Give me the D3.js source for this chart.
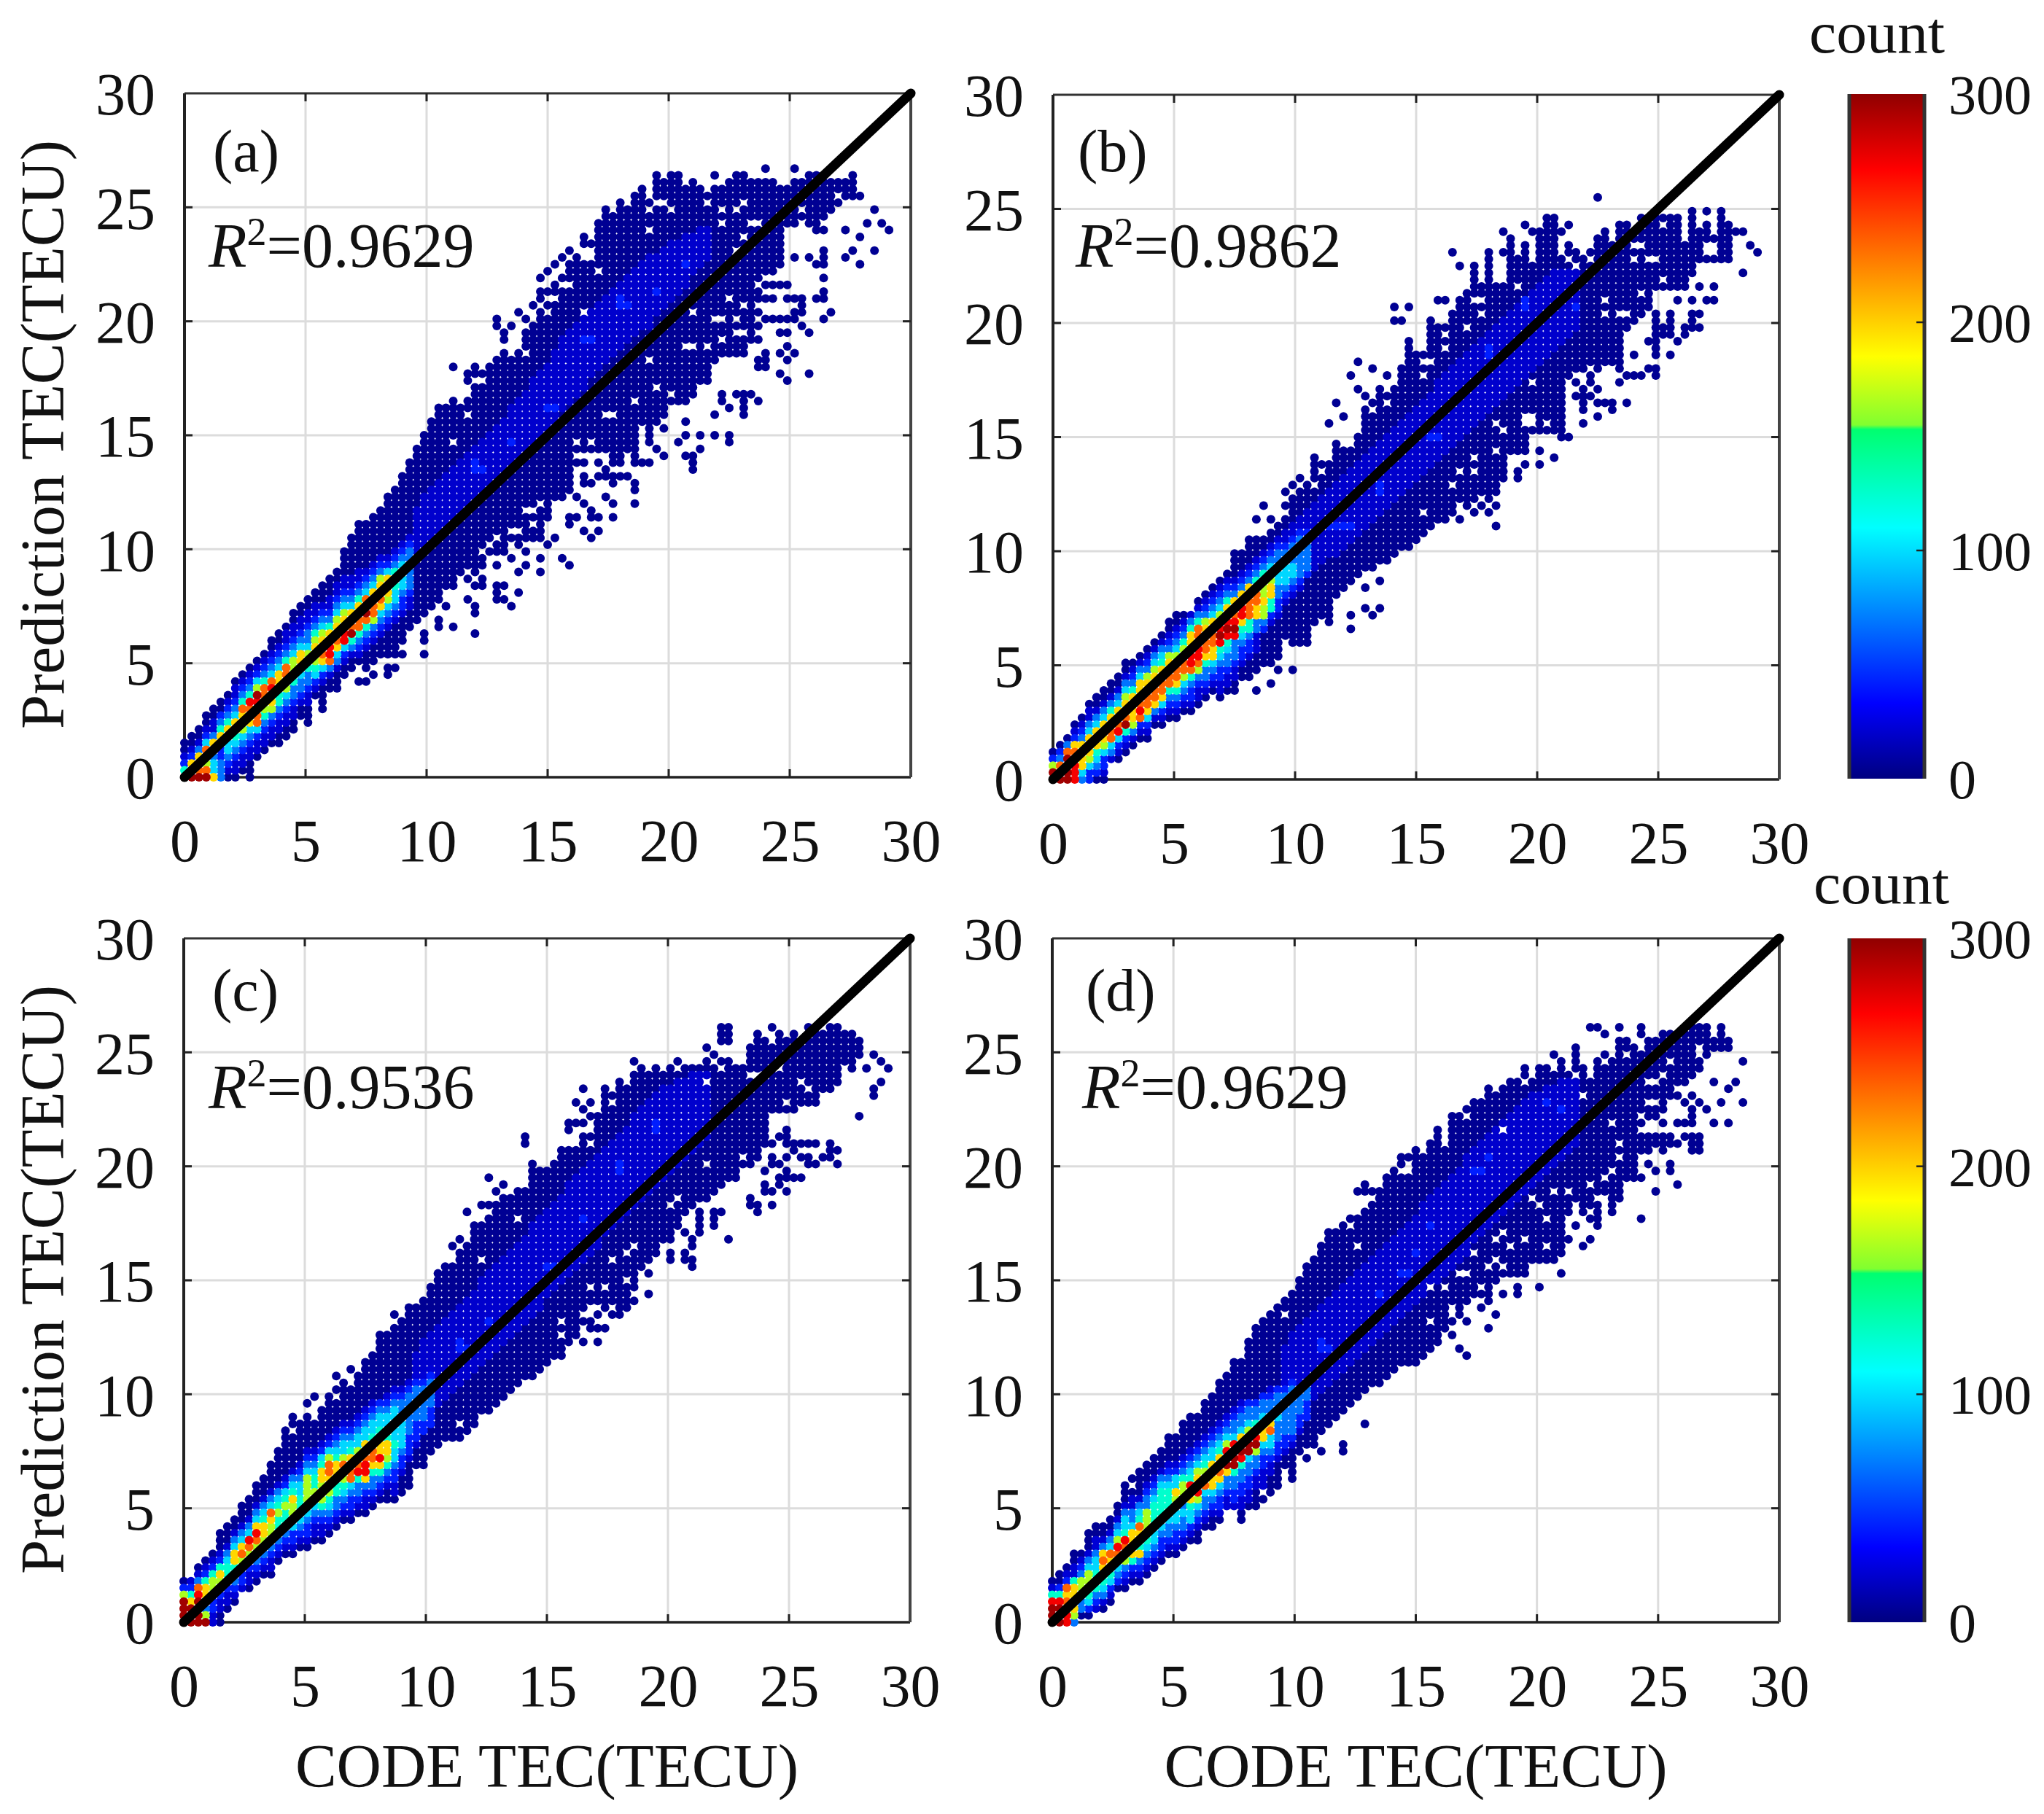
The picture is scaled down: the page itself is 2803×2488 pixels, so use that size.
<!DOCTYPE html>
<html><head><meta charset="utf-8">
<script src="https://d3js.org/d3.v7.min.js"></script>
<style>html,body{margin:0;padding:0;background:#fff}svg{display:block}text{font-family:"Liberation Serif","Times New Roman",serif;fill:#111}</style>
</head><body><div id="c"></div>
<script>
// shared
const axisTicks=[0,5,10,15,20,25,30];
const binWidth=0.3;
const panelNames=["(a)","(b)","(c)","(d)"];
const r2Values=["0.9629","0.9862","0.9536","0.9629"];
const xTitle="CODE TEC(TECU)";
const yTitle="Prediction TEC(TECU)";
const cbarTitle="count";
const cbarTicks=[0,100,200,300];
const levelCounts=[6,22,42,68,98,125,165,198,235,270,295];
const jetCounts=[0,33,110,153,155,185,267,300];
const jetColors=["#000080","#0000ff","#00ffff","#00ff70","#80ff30","#ffff00","#ff0000","#900000"];
const glowCount=20, brightCount=42;

// column envelopes, in bin numbers (bin*0.3 = TECU)
const highA=[5,6,7,9,10,11,12,14,15,16,17,18,20,21,22,24,25,26,27,28,29,30,33,35,37,37,38,39,41,42,44,46,48,50,52,54,54,55,54,55,57,57,60,61,62,61,62,65,66,71,71,71,71,74,76,79,78,81,83,82,84,83,85,86,84,88,87,88,88,86,87,86,85,86,86,87,88,88,87,87,87,87,86,86,87,87,88,88,88,87,87,87,88,85];
const lowA=[0,0,0,0,0,0,0,0,1,0,3,4,5,5,6,7,10,10,12,12,13,13,15,16,17,17,17,18,19,19,20,22,23,24,25,26,28,28,30,30,30,31,33,33,33,35,34,35,35,35,38,41,41,42,46,46,48,48,48,46,46,48,46,52,49,52,53,55,55,55,56,58,58,61,62,62,62,62,64,73,74,74,75,80,81,82,81,80,80,83,84,85,85,85];
const highB=[4,5,6,8,9,11,12,13,14,15,17,17,18,19,20,21,23,24,24,24,26,27,28,29,30,33,33,35,35,35,36,37,38,41,42,43,47,46,46,49,48,48,50,54,55,57,56,57,60,64,62,62,67,66,66,68,70,71,75,72,77,72,72,79,76,78,75,80,82,82,76,78,77,76,77,79,80,78,81,81,79,82,82,82,82,82,82,78,82,80,81,79,82,81];
const lowB=[0,0,0,0,0,0,0,0,3,3,4,5,6,6,8,8,9,9,10,10,11,12,13,12,13,13,15,15,16,17,17,18,21,20,20,20,23,24,23,27,28,29,30,31,31,32,32,33,34,34,35,36,37,38,38,40,41,41,42,42,43,43,45,48,48,48,51,51,51,51,51,59,60,60,60,60,61,61,60,66,67,68,69,72,72,72,72,72,74,76,76,76,76,76];
const highC=[6,6,8,9,10,13,14,15,17,18,20,21,23,25,28,30,29,30,29,31,33,34,35,34,36,38,39,42,42,43,44,46,46,47,49,51,52,52,54,55,58,58,59,61,62,62,63,63,67,66,66,67,69,69,69,71,71,74,78,77,79,78,80,81,80,81,80,81,80,81,81,81,82,81,82,82,81,81,84,86,85,84,86,85,86,84,87,87,86,87,87,86,86,85];
const lowC=[0,0,0,0,0,0,2,3,5,5,6,7,7,9,10,10,11,11,12,12,13,14,15,15,16,16,17,18,18,18,19,20,23,23,25,26,27,27,27,28,29,31,31,32,33,34,35,36,36,37,38,39,39,42,43,47,47,47,47,47,47,48,49,52,53,54,56,57,58,60,61,62,62,63,64,65,65,67,67,68,70,74,75,75,75,76,76,76,78,78,79,82,81,83];
const highD=[6,7,8,10,10,13,14,14,15,17,20,21,22,23,24,25,27,27,29,30,30,32,33,35,36,38,38,41,43,44,45,46,47,48,50,52,53,55,57,57,58,59,59,60,63,63,65,66,68,68,69,68,70,72,70,74,74,75,76,76,78,77,78,79,79,81,79,81,81,80,82,80,84,81,79,82,83,82,85,85,84,83,85,85,86,86,85,86,87,87,87,85,87,85];
const lowD=[0,0,0,0,1,1,2,2,3,5,5,6,6,7,8,9,10,10,11,12,12,14,14,15,17,17,16,17,17,18,19,20,23,21,25,26,26,28,29,30,31,32,33,34,35,35,36,37,38,38,38,39,40,41,43,47,47,47,48,48,48,50,51,51,51,51,53,53,53,53,55,60,62,60,59,58,62,60,62,65,67,73,74,74,75,77,79,79,80,81,83,83,84,84];

// isolated cells outside the envelopes: [bin x, bin y]
const strayA=[[37,60],[39,59],[40,59],[41,59],[39,58],[40,60],[43,67],[43,66],[44,65],[44,64],[45,66],[46,68],[47,67],[48,69],[49,73],[50,74],[51,75],[52,76],[53,77],[52,73],[51,72],[53,75],[73,88],[80,89],[84,89],[16,9],[17,8],[17,9],[19,10],[19,11],[24,14],[25,14],[26,15],[25,16],[28,15],[28,16],[29,16],[29,18],[30,18],[28,18],[33,18],[33,20],[33,21],[35,22],[35,23],[36,25],[37,22],[39,29],[39,26],[40,28],[40,25],[40,24],[40,21],[41,29],[41,28],[43,31],[43,28],[43,27],[43,26],[44,28],[44,26],[45,32],[45,25],[46,30],[46,27],[47,33],[47,31],[49,32],[49,30],[50,34],[51,35],[52,32],[53,38],[53,37],[53,31],[54,41],[54,38],[55,44],[55,43],[55,40],[55,36],[56,43],[56,39],[56,38],[56,35],[57,44],[57,46],[57,38],[57,36],[58,45],[58,44],[58,41],[59,44],[59,43],[59,40],[59,38],[60,44],[61,44],[62,43],[62,42],[62,40],[63,46],[64,46],[65,48],[66,47],[66,51],[66,53],[68,49],[69,52],[69,50],[69,47],[70,45],[70,46],[70,47],[71,48],[71,50],[73,50],[75,49],[75,50],[73,53],[74,55],[74,56],[75,54],[76,56],[77,53],[77,54],[77,55],[77,56],[78,56],[79,55],[79,60],[79,61],[80,60],[80,61],[80,62],[82,59],[82,62],[83,58],[83,61],[83,63],[82,65],[83,65],[84,62],[86,59],[85,66],[86,65],[79,64],[79,66],[79,68],[79,70],[79,71],[80,67],[81,67],[82,67],[83,67],[84,67],[84,68],[85,68],[85,69],[80,70],[81,70],[83,70],[84,70],[85,70],[80,72],[81,72],[82,72],[83,72],[87,70],[88,71],[88,70],[88,67],[89,68],[88,73],[88,75],[88,76],[87,75],[86,76],[88,77],[84,76],[91,76],[92,77],[93,75],[91,80],[93,79],[94,81],[95,77],[95,83],[96,81],[97,80]];
const strayB=[[28,38],[29,40],[30,38],[32,42],[32,40],[33,43],[34,44],[38,52],[39,55],[40,53],[41,59],[42,61],[42,57],[43,56],[44,60],[46,59],[47,67],[47,69],[48,67],[49,69],[53,70],[54,70],[55,77],[56,75],[62,80],[62,77],[65,81],[66,80],[70,80],[71,81],[75,85],[88,83],[90,83],[92,83],[94,80],[95,80],[95,74],[96,78],[97,77],[28,13],[30,14],[31,16],[33,16],[41,24],[41,22],[43,28],[43,25],[44,24],[45,25],[45,29],[58,39],[57,40],[59,40],[60,39],[61,40],[58,41],[60,41],[61,42],[60,42],[61,37],[55,39],[56,38],[62,44],[64,45],[64,44],[65,46],[67,46],[67,48],[69,47],[70,50],[71,50],[70,55],[70,56],[73,52],[75,53],[73,54],[73,55],[75,55],[76,55],[77,55],[77,54],[79,55],[72,56],[73,56],[74,56],[73,57],[75,57],[72,58],[73,58],[74,58],[78,58],[74,59],[79,59],[80,59],[81,59],[83,59],[83,60],[82,60],[85,62],[80,62],[83,62],[83,63],[82,64],[83,64],[86,64],[87,65],[84,65],[85,65],[85,66],[83,65],[83,66],[83,67],[83,68],[84,66],[85,67],[85,68],[87,66],[88,66],[88,67],[88,68],[89,68],[89,66],[86,70],[88,70],[90,70],[91,70],[89,72],[91,72],[88,75]];
const strayC=[[17,32],[18,33],[21,36],[23,37],[29,45],[37,55],[38,56],[39,60],[41,61],[42,61],[42,65],[43,63],[44,64],[47,71],[47,70],[53,72],[53,73],[54,73],[54,76],[55,73],[55,75],[55,78],[56,76],[56,74],[62,82],[68,82],[72,84],[73,83],[74,85],[74,86],[74,87],[75,85],[75,86],[75,87],[81,87],[94,81],[95,83],[95,78],[95,77],[96,82],[96,79],[97,81],[93,74],[53,41],[54,42],[55,41],[55,44],[55,46],[56,43],[56,44],[57,41],[57,43],[57,45],[58,43],[58,46],[59,45],[60,45],[60,46],[61,46],[61,47],[62,47],[64,48],[64,51],[67,53],[67,54],[67,56],[69,53],[69,54],[69,57],[70,52],[70,53],[70,55],[70,56],[71,57],[71,58],[71,59],[71,60],[73,58],[73,59],[73,60],[74,60],[75,56],[78,61],[78,62],[79,60],[79,61],[80,63],[80,64],[81,61],[81,63],[82,64],[83,63],[83,65],[84,65],[85,65],[83,66],[82,65],[80,66],[81,67],[81,68],[82,67],[83,68],[84,69],[85,68],[85,70],[84,70],[86,67],[86,68],[87,67],[88,68],[89,68],[89,69],[89,70],[90,67],[90,69],[86,70],[87,70],[83,70],[83,71],[81,70],[82,71],[83,72]];
const strayD=[[42,63],[43,64],[43,63],[69,83],[74,87],[75,87],[76,86],[78,87],[81,86],[81,87],[95,82],[95,76],[91,79],[94,79],[93,78],[92,76],[91,73],[93,73],[90,75],[89,76],[88,77],[87,76],[88,73],[88,74],[88,75],[86,77],[87,73],[86,73],[81,69],[81,70],[81,71],[82,69],[82,70],[82,71],[83,70],[83,71],[84,69],[84,70],[84,71],[84,73],[85,70],[85,71],[86,70],[87,71],[88,71],[88,69],[88,70],[89,71],[89,70],[89,69],[81,59],[83,63],[86,64],[83,66],[82,67],[85,66],[85,67],[80,65],[80,66],[81,65],[72,58],[71,56],[73,55],[74,56],[70,51],[67,49],[64,48],[64,49],[62,48],[60,43],[61,45],[60,47],[59,46],[57,44],[55,44],[55,42],[56,45],[56,46],[56,40],[57,39],[70,54],[35,24],[37,25],[40,25],[40,26],[43,29],[26,15]];

// white gaps inside the envelopes
const holeA=[[39,53],[37,49],[47,62],[55,68],[50,70],[51,70],[57,74],[56,77],[56,76],[64,80],[67,83],[77,79],[76,83],[74,83],[74,81],[70,68],[75,70],[77,69],[76,67],[73,67],[74,67],[78,81],[79,81],[85,83],[83,80],[88,81],[90,85],[77,84],[72,84],[76,77],[62,55],[54,49],[56,49],[64,61],[69,63],[70,63],[72,63],[74,64],[76,65],[77,65],[58,53],[59,53],[65,57],[67,56],[50,68],[49,69],[52,72],[53,72],[55,76],[55,77],[66,84],[64,83],[65,84],[43,35],[42,34],[41,33],[39,30],[40,29],[49,40],[46,36],[45,36],[47,39],[48,39],[48,37],[55,47],[56,47],[54,47]];
const holeB=[[37,45],[36,43],[44,54],[46,55],[51,59],[51,61],[52,61],[54,63],[54,65],[57,66],[59,68],[58,70],[59,70],[64,72],[72,75],[71,76],[74,76],[80,76],[81,71],[76,70],[76,68],[78,68],[79,68],[84,73],[82,76],[83,76],[90,78],[91,78],[90,77],[91,77],[84,81],[66,58],[74,60],[72,59],[73,58],[61,52],[62,51],[66,53],[65,53],[66,52],[68,52],[61,48],[58,47],[56,45],[58,45],[55,43],[51,39],[81,78],[80,78],[65,52],[61,73],[62,73]];
const holeC=[[15,28],[21,33],[38,29],[41,53],[46,59],[56,70],[59,76],[72,79],[74,81],[79,80],[78,80],[72,67],[77,68],[67,61],[68,62],[59,53],[61,54],[62,55],[56,49],[58,49],[61,50],[52,44],[52,42],[81,74],[81,73],[86,78],[82,81],[85,79],[83,76]];
const holeD=[[42,55],[41,58],[44,62],[49,66],[48,66],[49,67],[54,70],[57,74],[62,72],[65,79],[73,77],[72,80],[76,82],[79,83],[85,82],[84,80],[89,84],[89,83],[91,83],[82,79],[83,79],[82,76],[83,76],[81,74],[77,73],[78,70],[78,68],[77,66],[76,65],[74,64],[69,63],[71,63],[66,62],[75,62],[76,62],[67,61],[68,59],[74,60],[62,57],[61,56],[63,55],[58,54],[65,56],[68,55],[61,53],[62,52],[60,52],[56,51],[57,51],[52,49],[54,49],[59,49],[52,44],[11,20],[32,45],[29,19]];

// low-density band beyond the hot core, columns 32..72
const glowLoA=[32,33,34,35,36,37,38,39,40,41,42,43,44,45,46,47,49,50,51,52,54,55,56,57,59,60,61,62,63,64,65,66,66,68,69,70,71,72,74,75,76];
const glowHiA=[39,41,42,43,44,45,46,47,48,49,50,51,52,54,55,56,58,59,60,62,64,65,66,67,68,69,70,71,72,73,74,75,76,76,77,78,78,79,79,80,80];
const glowLoB=[27,28,29,30,31,32,33,33,34,35,36,37,38,39,40,41,42,43,44,45,46,47,48,49,50,51,52,53,54,55,56,57,58,59,60,61,62,63,64,65,66];
const glowHiB=[36,37,38,39,40,41,42,43,44,45,46,47,48,49,50,51,52,53,54,55,56,58,59,60,61,62,63,64,65,66,67,68,69,70,71,72,73,74,74,74,74];
const glowLoC=[29,30,31,32,33,34,35,36,37,38,39,40,41,42,43,44,45,46,48,49,50,51,52,53,54,55,57,58,59,60,61,62,63,64,65,66,67,68,69,70,71];
const glowHiC=[39,41,42,43,44,45,46,47,48,50,51,52,53,54,55,56,58,59,60,61,62,64,65,66,67,68,69,70,71,72,74,75,76,77,78,78,79,79,80,80,80];
const glowLoD=[29,30,31,32,33,34,35,36,37,38,39,40,41,42,43,44,45,46,47,48,49,50,51,52,53,54,56,57,58,59,60,61,62,63,64,65,66,67,68,69,70];
const glowHiD=[40,42,43,44,45,46,47,48,49,50,51,52,53,54,55,56,57,58,59,61,62,63,64,65,66,68,69,70,71,72,73,74,75,76,77,77,78,78,79,79,79];
const brightA=[[40,45],[45,49],[50,54],[55,64],[60,69],[65,71],[69,75],[41,45],[40,46],[51,54],[56,64],[60,70],[61,69]];
const brightB=[[40,37],[45,42],[52,50],[60,62],[65,69],[72,69],[41,37],[45,43],[53,50],[60,63],[65,70],[38,37],[39,37]];
const brightC=[[38,40],[50,52],[60,66],[65,73],[42,44],[55,59],[39,40],[38,41],[51,52],[60,67],[65,72]];
const brightD=[[37,40],[48,51],[50,54],[52,58],[58,66],[60,68],[68,76],[70,75],[45,48],[38,40],[37,41],[49,51],[59,66]];

// hot core: one row per column from 0, [first bin y, density level per bin]
const coreA=[[0,"A5210"],[0,"A87210"],[0,"A887310"],[0,"A86884210"],[0,"744377311"],[0,"3332277532"],[0,"012344775321"],[1,"1123457743211"],[2,"1123467785321"],[3,"1123478895321"],[4,"11248889A6421"],[5,"1123567885321"],[6,"1123678984321"],[7,"1123557774321"],[8,"11234678853211"],[9,"11233566643211"],[11,"1233467743211"],[11,"11233566433211"],[13,"1245677653211"],[14,"124788764321"],[15,"138998753211"],[16,"1347887643211"],[17,"1249987643211"],[18,"135A88743211"],[18,"1235888753211"],[19,"12358AA84321"],[20,"123688874321"],[21,"123478876321"],[22,"12346797421"],[23,"12344565321"],[24,"12234454321"],[25,"11233333321"]];
const coreB=[[0,"AA620"],[0,"AA8320"],[0,"AAAA830"],[0,"999887210"],[0,"3477773210"],[0,"224677743110"],[0,"0234577743100"],[0,"01224677743100"],[3,"1348877531"],[4,"1249877431"],[5,"125A8776431"],[6,"13677775321"],[7,"12898877431"],[7,"124788876321"],[9,"13788876431"],[9,"124788775431"],[10,"123588776321"],[10,"1235788764321"],[11,"1234688765321"],[11,"12235899877531"],[12,"11236899888531"],[13,"12335788876321"],[14,"12347788874321"],[13,"11223459A9864321"],[14,"11233459A9875321"],[15,"1123339A9887321"],[17,"12234579987321"],[18,"12235588887321"],[19,"11133778875321"],[22,"236676665321"],[23,"125577654321"],[24,"122334443321"],[26,"1234443321"],[27,"1234433321"],[28,"1233333321"],[30,"23333321"]];
const coreC=[[0,"AAAA620"],[0,"AAA7521"],[0,"AAAA98310"],[0,"A635775210"],[0,"1122466521"],[0,"00112467521"],[2,"0112355431"],[3,"01233577431"],[4,"11223687431"],[5,"01123689431"],[6,"012336897431"],[7,"012346775431"],[7,"0112346678431"],[9,"012345565431"],[10,"012345565421"],[10,"0122456675431"],[11,"0123455544321"],[11,"012234566664321"],[12,"01123466554321"],[12,"011235666775421"],[13,"012345667886421"],[14,"012335567754321"],[15,"012345688644321"],[15,"012234887754321"],[16,"012335988644321"],[16,"0112379988744321"],[17,"0123357887544321"],[18,"012357977654432"],[18,"0012356775544321"],[19,"1122344544444321"],[22,"1223444443321"],[24,"122233333321"],[26,"12223333321"],[28,"223333321"],[29,"222333321"]];
const coreD=[[0,"AAA9510"],[0,"AAA95200"],[0,"999878210"],[0,"3677775110"],[1,"0335663210"],[1,"02456664310"],[2,"12355544311"],[2,"0134567873100"],[3,"0124567843100"],[5,"023468964310"],[5,"01236889544310"],[6,"01257777433110"],[6,"01237577854310"],[7,"012345666633210"],[8,"012344555543210"],[9,"012234455554310"],[10,"012334455543210"],[10,"012234456744210"],[11,"012334356653210"],[12,"012445789543210"],[13,"012346987643210"],[14,"012334886543210"],[15,"012347787443210"],[15,"012234788754321"],[16,"0112337A9964321"],[16,"0122335AA9943321"],[15,"0011223359A9743321"],[17,"01122334AA964332"],[18,"00112336A975332"],[20,"11122347764332"],[22,"1123448753321"],[24,"12233344332"],[25,"12233333321"],[26,"12333333321"],[28,"12233321"],[30,"2223321"]];

// layout
const W=2803,H=2488;
const panels=[
 {name:panelNames[0],r2:r2Values[0],left:253,right:1249,top:128,bottom:1066,high:highA,low:lowA,stray:strayA,hole:holeA,glowLo:glowLoA,glowHi:glowHiA,bright:brightA,core:coreA,lx:292,ly:235,rx:286,ry:366,yt:true,xt:false},
 {name:panelNames[1],r2:r2Values[1],left:1444,right:2440,top:130,bottom:1069,high:highB,low:lowB,stray:strayB,hole:holeB,glowLo:glowLoB,glowHi:glowHiB,bright:brightB,core:coreB,lx:1478,ly:235,rx:1475,ry:366,yt:false,xt:false},
 {name:panelNames[2],r2:r2Values[2],left:252,right:1248,top:1287,bottom:2225,high:highC,low:lowC,stray:strayC,hole:holeC,glowLo:glowLoC,glowHi:glowHiC,bright:brightC,core:coreC,lx:291,ly:1386,rx:286,ry:1520,yt:true,xt:true},
 {name:panelNames[3],r2:r2Values[3],left:1443,right:2440,top:1287,bottom:2225,high:highD,low:lowD,stray:strayD,hole:holeD,glowLo:glowLoD,glowHi:glowHiD,bright:brightD,core:coreD,lx:1489,ly:1386,rx:1484,ry:1520,yt:false,xt:true}
];
const colorOf=d3.scaleLinear().domain(jetCounts).range(jetColors).clamp(true);
const svg=d3.select("#c").append("svg").attr("width",W).attr("height",H).attr("viewBox",`0 0 ${W} ${H}`);
svg.append("rect").attr("width",W).attr("height",H).attr("fill","#fff");
const defs=svg.append("defs");
const grad=defs.append("linearGradient").attr("id","jet").attr("x1",0).attr("x2",0).attr("y1",1).attr("y2",0);
jetCounts.forEach((c,k)=>grad.append("stop").attr("offset",c/300).attr("stop-color",jetColors[k]));

function buildCells(p){
  const m=new Map(), key=(i,j)=>i+"_"+j;
  p.high.forEach((h,i)=>{for(let j=p.low[i];j<=h;j++)m.set(key(i,j),{i,j,count:5});});
  p.stray.forEach(([i,j])=>m.set(key(i,j),{i,j,count:5}));
  p.hole.forEach(([i,j])=>m.delete(key(i,j)));
  p.glowLo.forEach((lo,c)=>{const i=c+32;for(let j=lo;j<=p.glowHi[c];j++){const o=m.get(key(i,j));if(o)o.count=glowCount;}});
  p.bright.forEach(([i,j])=>{const o=m.get(key(i,j));if(o)o.count=brightCount;});
  p.core.forEach(([start,s],i)=>{[...s].forEach((ch,n)=>{const o=m.get(key(i,start+n));if(o)o.count=levelCounts[parseInt(ch,16)];});});
  return [...m.values()].sort((a,b)=>a.count-b.count);
}

panels.forEach(p=>{
  const x=d3.scaleLinear().domain([0,30]).range([p.left,p.right]);
  const y=d3.scaleLinear().domain([0,30]).range([p.bottom,p.top]);
  const g=svg.append("g");
  // grid
  g.append("g").selectAll("line").data(axisTicks.slice(1,-1)).join("line")
    .attr("x1",d=>x(d)).attr("x2",d=>x(d)).attr("y1",p.top).attr("y2",p.bottom).attr("stroke","#dcdcdc").attr("stroke-width",3);
  g.append("g").selectAll("line").data(axisTicks.slice(1,-1)).join("line")
    .attr("y1",d=>y(d)).attr("y2",d=>y(d)).attr("x1",p.left).attr("x2",p.right).attr("stroke","#dcdcdc").attr("stroke-width",3);
  // frame
  g.append("line").attr("x1",p.left).attr("x2",p.right).attr("y1",p.top).attr("y2",p.top).attr("stroke","#333").attr("stroke-width",3);
  g.append("line").attr("x1",p.left).attr("x2",p.right).attr("y1",p.bottom).attr("y2",p.bottom).attr("stroke","#222").attr("stroke-width",3.5);
  g.append("line").attr("x1",p.left).attr("x2",p.left).attr("y1",p.top).attr("y2",p.bottom).attr("stroke","#222").attr("stroke-width",4);
  g.append("line").attr("x1",p.right).attr("x2",p.right).attr("y1",p.top).attr("y2",p.bottom).attr("stroke","#444").attr("stroke-width",4);
  // inner ticks
  const tk=axisTicks.slice(1,-1);
  g.append("g").selectAll("line").data(tk).join("line").attr("x1",d=>x(d)).attr("x2",d=>x(d)).attr("y1",p.bottom).attr("y2",p.bottom-11).attr("stroke","#222").attr("stroke-width",3);
  g.append("g").selectAll("line").data(tk).join("line").attr("x1",d=>x(d)).attr("x2",d=>x(d)).attr("y1",p.top).attr("y2",p.top+11).attr("stroke","#222").attr("stroke-width",3);
  g.append("g").selectAll("line").data(tk).join("line").attr("y1",d=>y(d)).attr("y2",d=>y(d)).attr("x1",p.left).attr("x2",p.left+11).attr("stroke","#222").attr("stroke-width",3);
  g.append("g").selectAll("line").data(tk).join("line").attr("y1",d=>y(d)).attr("y2",d=>y(d)).attr("x1",p.right).attr("x2",p.right-11).attr("stroke","#222").attr("stroke-width",3);
  // axis labels
  const ax=g.append("g").attr("transform",`translate(0,${p.bottom})`).call(d3.axisBottom(x).tickValues(axisTicks).tickSize(0));
  ax.select(".domain").remove();
  ax.selectAll("text").attr("y",115).attr("dy",0).style("font-size","82px").style("font-family",'"Liberation Serif"').attr("fill","#111");
  const ay=g.append("g").attr("transform",`translate(${p.left},0)`).call(d3.axisLeft(y).tickValues(axisTicks).tickSize(0));
  ay.select(".domain").remove();
  ay.selectAll("text").attr("x",-40).attr("dy","0.35em").style("font-size","82px").style("font-family",'"Liberation Serif"').attr("fill","#111");
  // cells
  g.append("g").selectAll("circle").data(buildCells(p)).join("circle")
    .attr("cx",d=>x(d.i*binWidth)).attr("cy",d=>y(d.j*binWidth)).attr("r",6).attr("fill",d=>colorOf(d.count));
  // 1:1 line
  g.append("line").attr("x1",x(0)).attr("y1",y(0)).attr("x2",x(30)).attr("y2",y(30)).attr("stroke","#000").attr("stroke-width",13).attr("stroke-linecap","round");
  // annotations
  g.append("text").attr("x",p.lx).attr("y",p.ly).style("font-size","82px").text(p.name);
  const t=g.append("text").attr("x",p.rx).attr("y",p.ry).style("font-size","86px");
  t.append("tspan").style("font-style","italic").text("R");
  t.append("tspan").attr("dy",-30).style("font-size","54px").text("2");
  t.append("tspan").attr("dy",30).text("="+p.r2);
  if(p.yt){
    const cy=(p.top+p.bottom)/2+ -1;
    g.append("text").attr("transform",`translate(87,${cy}) rotate(-90)`).attr("text-anchor","middle").style("font-size","85px").text(yTitle);
  }
  if(p.xt){
    g.append("text").attr("x",(p.left+p.right)/2+0).attr("y",2451).attr("text-anchor","middle").style("font-size","85px").text(xTitle);
  }
});

// colour bars
[{top:129,bottom:1068,tx:2574,ty:72},{top:1287,bottom:2225,tx:2580,ty:1239}].forEach(c=>{
  const L=2536,R=2639;
  const s=d3.scaleLinear().domain([0,300]).range([c.bottom,c.top]);
  const g=svg.append("g");
  g.append("rect").attr("x",L).attr("y",c.top).attr("width",R-L).attr("height",c.bottom-c.top).attr("fill","url(#jet)");
  g.append("line").attr("x1",L).attr("x2",L).attr("y1",c.top).attr("y2",c.bottom).attr("stroke","#333").attr("stroke-width",5);
  g.append("line").attr("x1",R).attr("x2",R).attr("y1",c.top).attr("y2",c.bottom).attr("stroke","#333").attr("stroke-width",5);
  g.append("g").selectAll("line").data([100,200]).join("line").attr("x1",R).attr("x2",R-11).attr("y1",d=>s(d)).attr("y2",d=>s(d)).attr("stroke","#222").attr("stroke-width",2.5);
  const a=g.append("g").attr("transform",`translate(${R},0)`).call(d3.axisRight(s).tickValues(cbarTicks).tickSize(0));
  a.select(".domain").remove();
  a.selectAll("text").attr("x",33).attr("dy","0.35em").style("font-size","76px").style("font-family",'"Liberation Serif"').attr("fill","#111");
  g.append("text").attr("x",c.tx).attr("y",c.ty).attr("text-anchor","middle").attr("textLength",186).attr("lengthAdjust","spacingAndGlyphs").style("font-size","80px").text(cbarTitle);
});
</script></body></html>
